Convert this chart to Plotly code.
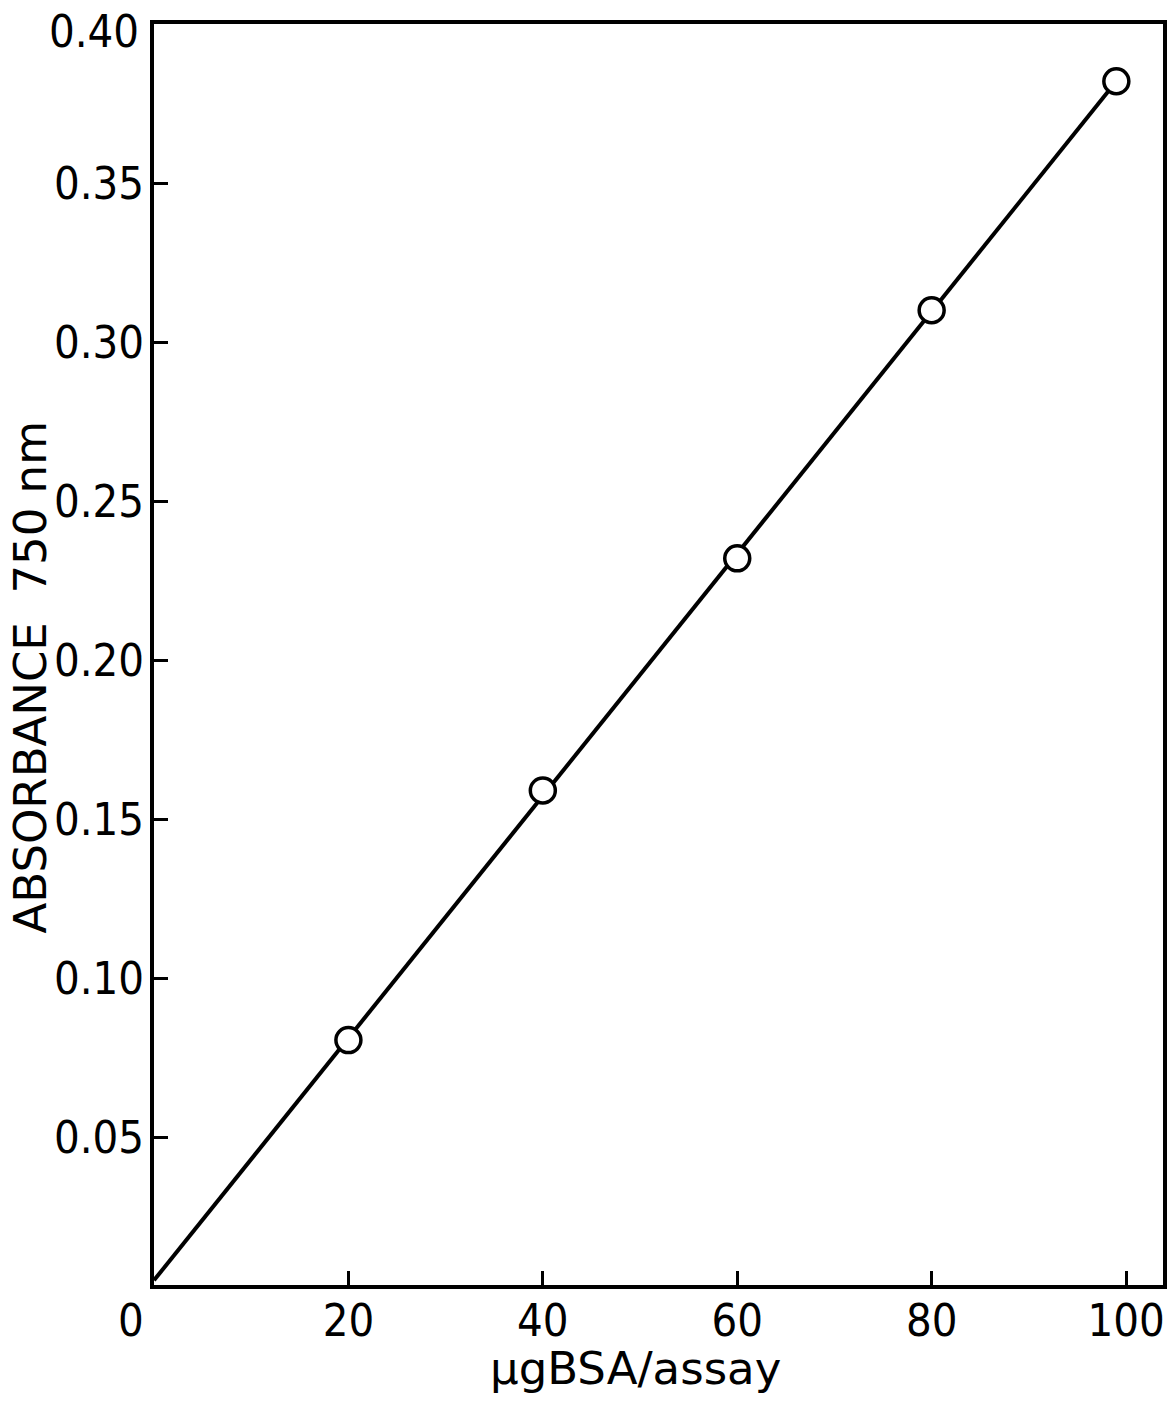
import numpy as np
import plotly.graph_objects as go

# Data
bsa_ug = [20, 40, 60, 80, 99]
absorbance = [0.0805, 0.159, 0.232, 0.310, 0.382]

x_ticks = [20, 40, 60, 80, 100]
x_tick_labels = ["20", "40", "60", "80", "100"]
y_ticks = [0.05, 0.10, 0.15, 0.20, 0.25, 0.30, 0.35]
y_tick_labels = ["0.05", "0.10", "0.15", "0.20", "0.25", "0.30", "0.35"]
y_top = 0.40
y_top_label = "0.40"

# calibration line (least squares fit of the points)
slope, intercept = np.polyfit(bsa_ug, absorbance, 1)
fit_x = np.array([0, bsa_ug[-1]])
fit_y = slope * fit_x + intercept

W, H = 1175, 1405
L, R, T, B = 154, 8, 24, 120

TICK_FONT = dict(family="DejaVu Sans Condensed, Liberation Sans Narrow, sans-serif",
                 size=45, color="black")
TITLE_FONT = dict(family="DejaVu Sans, sans-serif", size=45, color="black")

fig = go.Figure()
fig.add_trace(go.Scatter(x=fit_x, y=fit_y, mode="lines",
                         line=dict(color="black", width=4), hoverinfo="skip"))
fig.add_trace(go.Scatter(x=bsa_ug, y=absorbance, mode="markers",
                         marker=dict(symbol="circle", size=25, color="white",
                                     line=dict(color="black", width=3.5))))

fig.update_layout(
    width=W, height=H,
    margin=dict(l=L, r=R, t=T, b=B),
    paper_bgcolor="white", plot_bgcolor="white",
    showlegend=False,
    xaxis=dict(range=[0, 103.8], showgrid=False, zeroline=False,
               showline=True, linecolor="black", linewidth=4, mirror=True,
               ticks="inside", ticklen=14, tickwidth=3, tickcolor="black",
               tickvals=x_ticks, ticktext=x_tick_labels, tickfont=TICK_FONT,
               ticklabelstandoff=-7),
    yaxis=dict(range=[0.0035, y_top], showgrid=False, zeroline=False,
               showline=True, linecolor="black", linewidth=4, mirror=True,
               ticks="inside", ticklen=14, tickwidth=3, tickcolor="black",
               tickvals=y_ticks, ticktext=y_tick_labels, tickfont=TICK_FONT,
               ticklabelstandoff=-3),
)

plot_w = W - L - R
plot_h = H - T - B

def px_x(p):
    return (p - L) / plot_w

def px_y(p):
    return (H - B - p) / plot_h

# top y label at the frame corner (sits just below the top edge of the frame)
fig.add_annotation(text=y_top_label, xref="paper", yref="paper", x=px_x(141), y=px_y(32),
                   xanchor="right", yanchor="middle", showarrow=False, font=TICK_FONT)
# origin label
fig.add_annotation(text="0", xref="paper", yref="paper", x=px_x(131), y=px_y(1321),
                   xanchor="center", yanchor="middle", showarrow=False, font=TICK_FONT)
# axis titles
fig.add_annotation(text="µgBSA/assay", xref="paper", yref="paper",
                   x=px_x(637), y=px_y(1368), xanchor="center", yanchor="middle",
                   showarrow=False, font=TITLE_FONT)
fig.add_annotation(text="ABSORBANCE  750 nm", xref="paper", yref="paper",
                   x=px_x(31), y=px_y(677), xanchor="center", yanchor="middle",
                   textangle=-90, showarrow=False, font=TITLE_FONT)

fig.write_html("out.html")
